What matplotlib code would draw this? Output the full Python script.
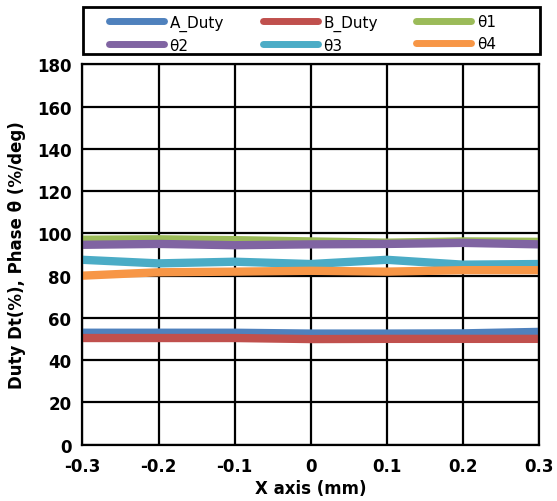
import matplotlib
matplotlib.use("Agg")
import matplotlib.pyplot as plt
from matplotlib.ticker import MultipleLocator
from matplotlib.patches import Rectangle

plt.rcParams['font.family'] = ['Liberation Sans Narrow', 'DejaVu Sans Condensed', 'DejaVu Sans']
plt.rcParams['font.weight'] = 'bold'
plt.rcParams['axes.labelweight'] = 'bold'

x = [-0.3, -0.2, -0.1, 0.0, 0.1, 0.2, 0.3]
a_duty = [53.0, 53.0, 53.0, 52.6, 52.6, 52.7, 53.4]
b_duty = [50.5, 50.5, 50.5, 50.0, 50.1, 50.1, 50.1]
theta1 = [97.0, 97.2, 96.8, 96.2, 95.6, 96.2, 96.0]
theta2 = [94.6, 95.0, 94.4, 94.8, 95.0, 95.5, 94.8]
theta3 = [87.5, 85.8, 86.6, 85.5, 87.5, 85.2, 85.5]
theta4 = [80.0, 81.6, 81.9, 82.3, 81.9, 82.6, 82.6]

labels = ["A_Duty", "B_Duty", "θ1", "θ2", "θ3", "θ4"]
colors = ["#4f81bd", "#c0504d", "#9bbb59", "#8064a2", "#4bacc6", "#f79646"]
series = [a_duty, b_duty, theta1, theta2, theta3, theta4]
xticklabels = ["-0.3", "-0.2", "-0.1", "0", "0.1", "0.2", "0.3"]

fig = plt.figure(figsize=(5.57, 5.02), dpi=100)
ax = fig.add_axes([0.148, 0.112, 0.82, 0.758])

handles = []
for s, c, l in zip(series, colors, labels):
    h, = ax.plot(x, s, color=c, lw=6, label=l, solid_capstyle='butt')
    handles.append(h)

ax.set_xlim(-0.3, 0.3)
ax.set_ylim(0, 180)
ax.yaxis.set_major_locator(MultipleLocator(20))
ax.set_xticks(x)
ax.set_xticklabels(xticklabels)
ax.grid(True, color='black', lw=1.6)
ax.set_axisbelow(True)
for sp in ax.spines.values():
    sp.set_linewidth(1.6)
ax.tick_params(axis='x', length=0, labelsize=12, pad=9)
ax.tick_params(axis='y', length=0, labelsize=12, pad=8)
ax.set_xlabel("X axis (mm)", fontsize=12, labelpad=3)
ax.set_ylabel("Duty Dt(%), Phase θ (%/deg)", fontsize=12, labelpad=8)

# legend frame
fig.patches.append(Rectangle((0.149, 0.8904), 0.8205, 0.0936, transform=fig.transFigure,
                             fill=False, edgecolor='black', lw=2))

# legend is filled column-wise; reorder so rows read A_Duty,B_Duty,θ1 / θ2,θ3,θ4
order = [0, 3, 1, 4, 2, 5]
leg = fig.legend([handles[i] for i in order], [labels[i] for i in order],
                 ncol=3, loc='center left',
                 bbox_to_anchor=(0.196, 0.8844, 0.694, 0.0936), mode='expand',
                 fontsize=11, frameon=False, handlelength=3.6,
                 borderaxespad=0, handletextpad=0.35, labelspacing=0.45,
                 borderpad=0.0, columnspacing=1.0)
for t in leg.get_texts():
    t.set_fontweight('normal')
for lh in leg.get_lines():
    lh.set_solid_capstyle('round')
    lh.set_linewidth(5)

fig.savefig("out.png", dpi=100)
